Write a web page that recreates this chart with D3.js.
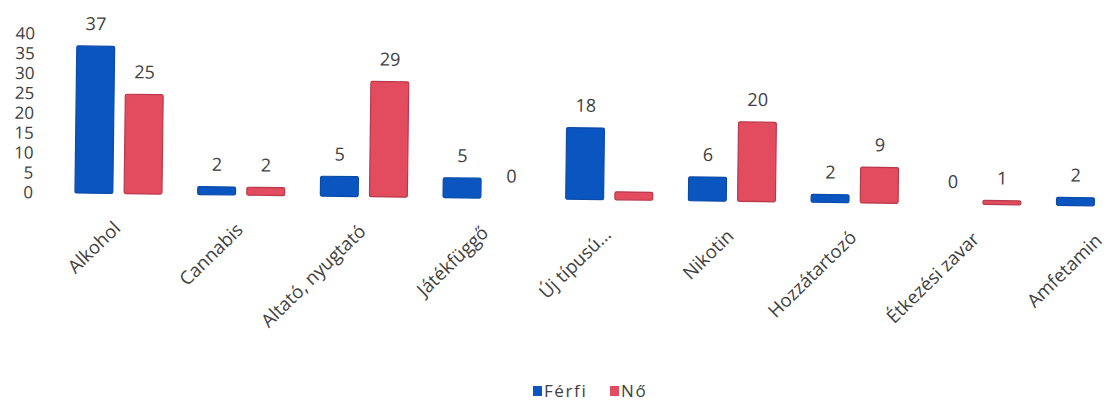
<!DOCTYPE html>
<html>
<head>
<meta charset="utf-8">
<script src="https://cdn.jsdelivr.net/npm/d3@7"></script>
<style>
  html, body { margin: 0; padding: 0; background: #ffffff; }
  svg { display: block; font-family: "Open Sans", "Noto Sans", sans-serif; }
</style>
</head>
<body>
<svg id="chart" width="1107" height="401"></svg>
<script>
const categories = ["Alkohol", "Cannabis", "Altató, nyugtató", "Játékfüggő", "Új típusú...", "Nikotin", "Hozzátartozó", "Étkezési zavar", "Amfetamin"];
const ferfi = [37, 2, 5, 5, 18, 6, 2, 0, 2];
const no = [25, 2, 29, 0, 2, 20, 9, 1, null];
const noLabelShown = [true, true, true, true, false, true, true, true, false];
const yTicks = [0, 5, 10, 15, 20, 25, 30, 35, 40];
const seriesNames = ["Férfi", "Nő"];
const colors = ["#0b55c0", "#e24c5e"];
const strokes = ["#0a4aa8", "#b8394a"];

const svg = d3.select("#chart");
const g = svg.append("g").attr("transform", "rotate(0.72, 75, 193)");

const x = d3.scaleBand().domain(categories).range([56.6, 56.6 + 9 * 122.7]).padding(0);
const y = d3.scaleLinear().domain([0, 40]).range([193, 34]);
const sub = d3.scaleBand().domain(seriesNames).range([-43, 44]).paddingInner(0.23);

// y axis labels
const yAxis = d3.axisLeft(y).tickValues(yTicks).tickSize(0).tickPadding(0);
const ya = g.append("g").attr("transform", "translate(33,0)").call(yAxis);
ya.select(".domain").remove();
ya.selectAll("text").attr("font-size", 17).attr("fill", "#404040")
  .attr("font-family", "'Open Sans', sans-serif");

const data = [ferfi, no];
data.forEach((vals, si) => {
  const name = seriesNames[si];
  const grp = g.append("g");
  categories.forEach((c, i) => {
    const v = vals[i];
    if (v === null) return;
    const cx = x(c) + x.bandwidth() / 2;
    const bx = cx + sub(name);
    const top = y(v);
    const h = Math.max(y(0) - top, v === 0 ? 0 : 1.5);
    if (v > 0) {
      grp.append("rect")
        .attr("x", bx).attr("y", y(0) - h)
        .attr("width", sub.bandwidth()).attr("height", h)
        .attr("rx", 1.5)
        .attr("fill", colors[si])
        .attr("stroke", strokes[si]).attr("stroke-width", 1.2);
    }
    const showLabel = si === 0 ? true : noLabelShown[i];
    if (showLabel) {
      grp.append("text")
        .attr("x", bx + sub.bandwidth() / 2)
        .attr("y", (v === 0 ? y(0) : y(0) - h) - 16)
        .attr("text-anchor", "middle")
        .attr("font-size", 18).attr("fill", "#404040")
        .text(v);
    }
  });
});

// category labels
categories.forEach((c) => {
  const cx = x(c) + x.bandwidth() / 2;
  g.append("text")
    .attr("transform", `translate(${cx + 4},${229}) rotate(-45)`)
    .attr("text-anchor", "end")
    .attr("font-size", 18.5).attr("fill", "#404040")
    .text(c);
});

// legend
const lg = svg.append("g").attr("transform", "translate(533,391)");
seriesNames.forEach((n, i) => {
  const ox = i === 0 ? 0 : 77;
  lg.append("rect").attr("x", ox).attr("y", -5).attr("width", 9).attr("height", 10)
    .attr("fill", colors[i]);
  lg.append("text").attr("x", ox + 11).attr("y", 0).attr("dy", "0.35em")
    .attr("font-size", 17).attr("letter-spacing", 1.6).attr("fill", "#404040").text(n);
});
</script>
</body>
</html>
